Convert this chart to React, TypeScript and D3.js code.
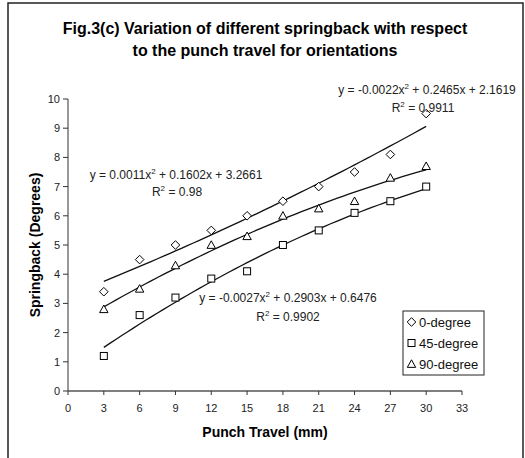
import React from "react";
import * as d3 from "d3";

const W = 525;
const H = 458;

const travel = [3, 6, 9, 12, 15, 18, 21, 24, 27, 30];
const deg0 = [3.4, 4.5, 5.0, 5.5, 6.0, 6.5, 7.0, 7.5, 8.1, 9.5];
const deg45 = [1.2, 2.6, 3.2, 3.85, 4.1, 5.0, 5.5, 6.1, 6.5, 7.0];
const deg90 = [2.8, 3.5, 4.3, 5.0, 5.3, 6.0, 6.25, 6.5, 7.3, 7.7];

// trendline coefficients [a, b, c] for y = a x^2 + b x + c (as printed on chart)
const fit0 = [0.0011, 0.1602, 3.2661];
const fit45 = [-0.0027, 0.2903, 0.6476];
const fit90 = [-0.0022, 0.2465, 2.1619];

const xTicks = [0, 3, 6, 9, 12, 15, 18, 21, 24, 27, 30, 33];
const yTicks = [0, 1, 2, 3, 4, 5, 6, 7, 8, 9, 10];

const seriesNames = ["0-degree", "45-degree", "90-degree"];

const FONT = "'Liberation Sans', Arial, sans-serif";

function Marker({ kind, x, y }: { kind: number; x: number; y: number }) {
  if (kind === 0) {
    const r = 4.3;
    return (
      <path
        d={`M${x},${y - r}L${x + r},${y}L${x},${y + r}L${x - r},${y}Z`}
        fill="white"
        stroke="black"
        strokeWidth={1}
      />
    );
  }
  if (kind === 1) {
    const s = 3.5;
    return <rect x={x - s} y={y - s} width={2 * s} height={2 * s} fill="white" stroke="black" strokeWidth={1} />;
  }
  const s = 4.2;
  return (
    <path
      d={`M${x},${y - s}L${x + s},${y + s * 0.8}L${x - s},${y + s * 0.8}Z`}
      fill="white"
      stroke="black"
      strokeWidth={1}
    />
  );
}

export default function App() {
  const x = d3.scaleLinear().domain([0, 33]).range([68, 462]);
  const y = d3.scaleLinear().domain([0, 10]).range([391, 99]);

  const series = [deg0, deg45, deg90];
  const fits = [fit0, fit45, fit90];
  const xs = d3.range(3, 30.01, 0.5);

  const curve = (f: number[]) =>
    d3
      .line<number>()
      .x((d) => x(d))
      .y((d) => y(f[0] * d * d + f[1] * d + f[2]))(xs) || "";

  return (
    <svg width={W} height={H} style={{ position: "absolute", left: 0, top: 0 }} fontFamily={FONT}>
      <rect x={0} y={0} width={W} height={H} fill="white" />
      <rect x={8} y={3} width={515} height={470} fill="white" stroke="#222" strokeWidth={1.5} />
      <text x={265} y={34} textAnchor="middle" fontSize={16} fontWeight="bold">
        Fig.3(c) Variation of different springback with respect
      </text>
      <text x={265} y={56} textAnchor="middle" fontSize={16} fontWeight="bold">
        to the punch travel for orientations
      </text>

      {/* axes */}
      <line x1={68} x2={68} y1={y(10)} y2={y(0)} stroke="#333" strokeWidth={1} />
      <line x1={68} x2={462} y1={y(0)} y2={y(0)} stroke="#555" strokeWidth={1.5} />
      {yTicks.map((t) => (
        <g key={"y" + t}>
          <line x1={63} x2={68} y1={y(t)} y2={y(t)} stroke="#333" />
          <text x={60} y={y(t) + 4} textAnchor="end" fontSize={11} fill="#222">
            {t}
          </text>
        </g>
      ))}
      {xTicks.map((t) => (
        <g key={"x" + t}>
          <line x1={x(t)} x2={x(t)} y1={y(0)} y2={y(0) + 4} stroke="#333" />
          <text x={x(t)} y={y(0) + 21} textAnchor="middle" fontSize={11} fill="#222">
            {t}
          </text>
        </g>
      ))}
      <text x={265} y={437} textAnchor="middle" fontSize={14} fontWeight="bold">
        Punch Travel (mm)
      </text>
      <text
        transform={`translate(40,${245}) rotate(-90)`}
        textAnchor="middle"
        fontSize={14}
        fontWeight="bold"
      >
        Springback (Degrees)
      </text>

      {/* trendlines */}
      {fits.map((f, i) => (
        <path key={"f" + i} d={curve(f)} fill="none" stroke="#111" strokeWidth={1.3} />
      ))}

      {/* markers */}
      {series.map((s, i) =>
        s.map((v, j) => <Marker key={i + "-" + j} kind={i} x={x(travel[j])} y={y(v)} />)
      )}

      {/* equations */}
      <g fontSize={12} fill="#222" textAnchor="middle">
        <text x={427} y={94}>
          y = -0.0022x<tspan dy={-5} fontSize={8}>2</tspan>
          <tspan dy={5}> + 0.2465x + 2.1619</tspan>
        </text>
        <text x={423} y={112}>
          R<tspan dy={-5} fontSize={8}>2</tspan>
          <tspan dy={5}> = 0.9911</tspan>
        </text>
        <text x={176} y={179}>
          y = 0.0011x<tspan dy={-5} fontSize={8}>2</tspan>
          <tspan dy={5}> + 0.1602x + 3.2661</tspan>
        </text>
        <text x={177} y={196}>
          R<tspan dy={-5} fontSize={8}>2</tspan>
          <tspan dy={5}> = 0.98</tspan>
        </text>
        <text x={288} y={302}>
          y = -0.0027x<tspan dy={-5} fontSize={8}>2</tspan>
          <tspan dy={5}> + 0.2903x + 0.6476</tspan>
        </text>
        <text x={288} y={321}>
          R<tspan dy={-5} fontSize={8}>2</tspan>
          <tspan dy={5}> = 0.9902</tspan>
        </text>
      </g>

      {/* legend */}
      <rect x={403} y={311} width={81} height={64} fill="white" stroke="#222" strokeWidth={1} />
      {seriesNames.map((n, i) => (
        <g key={n}>
          <Marker kind={i} x={411.5} y={322 + i * 21} />
          <text x={419} y={326.5 + i * 21} fontSize={13} fill="#111">
            {n}
          </text>
        </g>
      ))}
    </svg>
  );
}
